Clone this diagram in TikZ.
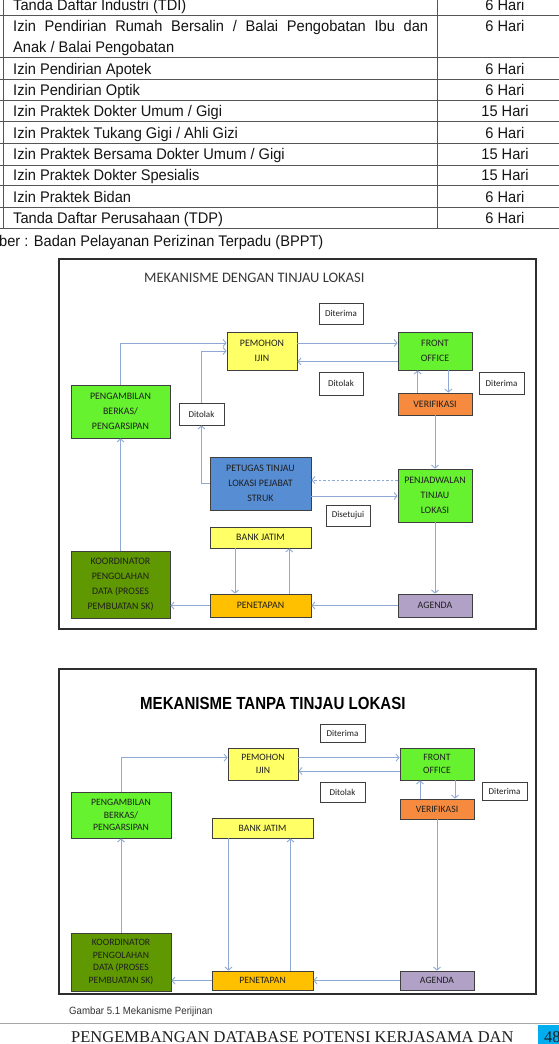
\documentclass[tikz,border=0pt]{standalone}
\usepackage{fontspec}
\setmainfont{Liberation Sans}
\newfontfamily\tabfont[FakeStretch=0.95]{Liberation Sans}
\newfontfamily\boxfont{Carlito}
\newfontfamily\headfont[FakeStretch=0.86]{Liberation Sans}
\newfontfamily\capfont[FakeStretch=0.92]{Liberation Sans}
\newfontfamily\footfont{Liberation Serif}
\usetikzlibrary{arrows.meta}

\definecolor{tabgray}{HTML}{555555}
\definecolor{boxline}{HTML}{3F3F3F}
\definecolor{panelgray}{HTML}{2E2E2E}
\definecolor{flowblue}{HTML}{8DA9D4}
\definecolor{fillyellow}{HTML}{FFFF66}
\definecolor{fillgreen}{HTML}{66F22E}
\definecolor{fillorange}{HTML}{F68B3F}
\definecolor{fillblue}{HTML}{568DD3}
\definecolor{filldkgreen}{HTML}{5F9800}
\definecolor{fillgold}{HTML}{FFC000}
\definecolor{fillpurple}{HTML}{B2A1C7}
\definecolor{pagecyan}{HTML}{00AEEF}

\tikzset{
  tabline/.style={draw=tabgray, line width=0.9pt},
  tabtext/.style={inner sep=0pt, font=\tabfont\fontsize{15.4}{21}\selectfont, text=black!92},
  flowbox/.style={draw=boxline, line width=0.8pt, inner sep=0pt, align=center, text=black!88},
  loose/.style={font=\boxfont\fontsize{9.9}{15.3}\selectfont},
  tight/.style={font=\boxfont\fontsize{9.7}{12.8}\selectfont},
  tag/.style={draw=boxline, line width=0.8pt, fill=white, inner sep=0pt, font=\boxfont\fontsize{9}{11}\selectfont, text=black!88},
  flow/.style={draw=flowblue, line width=0.9pt, -{Straight Barb[length=3pt,width=7pt]}},
  panel/.style={draw=panelgray, line width=1.2pt}
}

\begin{document}
\begin{tikzpicture}[x=1pt,y=-1pt]
\useasboundingbox (0,0) rectangle (559,1044);
\clip (0,0) rectangle (559,1044);
\fill[white] (0,0) rectangle (559,1044);

% ---------- permit table ----------
\foreach \yy in {15.7,57.3,79.3,100.7,121.7,143.3,165,185.7,207.3,228.3}
  \draw[tabline] (0,\yy) -- (559,\yy);
\draw[tabline] (3,-2) -- (3,228.3);
\draw[tabline] (437,-2) -- (437,228.3);

\node[tabtext, anchor=base west] (r1) at (13,10.7) {Tanda Daftar Industri (TDI)};
\node[tabtext, anchor=base west] (r2a) at (13,31.5) {\makebox[415pt][s]{Izin Pendirian Rumah Bersalin / Balai Pengobatan Ibu dan}};
\node[tabtext, anchor=base west] (r2b) at (13,52.3) {Anak / Balai Pengobatan};
\node[tabtext, anchor=base west] (r3) at (13,74) {Izin Pendirian Apotek};
\node[tabtext, anchor=base west] (r4) at (13,95.4) {Izin Pendirian Optik};
\node[tabtext, anchor=base west] (r5) at (13,116.4) {Izin Praktek Dokter Umum / Gigi};
\node[tabtext, anchor=base west] (r6) at (13,138) {Izin Praktek Tukang Gigi / Ahli Gizi};
\node[tabtext, anchor=base west] (r7) at (13,159.7) {Izin Praktek Bersama Dokter Umum / Gigi};
\node[tabtext, anchor=base west] (r8) at (13,180.4) {Izin Praktek Dokter Spesialis};
\node[tabtext, anchor=base west] (r9) at (13,202) {Izin Praktek Bidan};
\node[tabtext, anchor=base west] (r10) at (13,223) {Tanda Daftar Perusahaan (TDP)};

\node[tabtext, anchor=base] (h1) at (505,10.7) {6 Hari};
\node[tabtext, anchor=base] (h2) at (505,31.5) {6 Hari};
\node[tabtext, anchor=base] (h3) at (505,74) {6 Hari};
\node[tabtext, anchor=base] (h4) at (505,95.4) {6 Hari};
\node[tabtext, anchor=base] (h5) at (505,116.4) {15 Hari};
\node[tabtext, anchor=base] (h6) at (505,138) {6 Hari};
\node[tabtext, anchor=base] (h7) at (505,159.7) {15 Hari};
\node[tabtext, anchor=base] (h8) at (505,180.4) {15 Hari};
\node[tabtext, anchor=base] (h9) at (505,202) {6 Hari};
\node[tabtext, anchor=base] (h10) at (505,223) {6 Hari};

\node[tabtext, anchor=base west] (src) at (-1,246) {ber : Badan Pelayanan Perizinan Terpadu (BPPT)};

% ---------- flow with site survey ----------
\draw[panel] (59,259) rectangle (536,629);
\node[inner sep=0pt, anchor=base west, font=\boxfont\fontsize{14.5}{16}\selectfont, text=black!78] (t1) at (144,282.7) {MEKANISME DENGAN TINJAU LOKASI};

\node[tag, minimum width=44pt, minimum height=21pt] (ok1) at (341,313.5) {Diterima};
\node[flowbox, loose, fill=fillyellow, minimum width=70pt, minimum height=38pt] (pem1) at (262,351) {PEMOHON\\IJIN};
\node[flowbox, loose, fill=fillgreen, minimum width=74pt, minimum height=38pt] (fo1) at (435,351) {FRONT\\OFFICE};
\node[tag, minimum width=44pt, minimum height=23pt] (tol1) at (341,383.5) {Ditolak};
\node[tag, minimum width=45pt, minimum height=22pt] (ok1b) at (501.5,383) {Diterima};
\node[flowbox, loose, fill=fillgreen, minimum width=99pt, minimum height=53pt] (amb1) at (120.5,411.5) {PENGAMBILAN\\BERKAS/\\PENGARSIPAN};
\node[tag, minimum width=45pt, minimum height=22pt] (tol1b) at (201.5,414) {Ditolak};
\node[flowbox, loose, fill=fillorange, minimum width=74pt, minimum height=22pt] (ver1) at (435,404) {VERIFIKASI};
\node[flowbox, loose, fill=fillblue, minimum width=101pt, minimum height=53pt] (pet1) at (260.5,483.5) {PETUGAS TINJAU\\LOKASI PEJABAT\\STRUK};
\node[flowbox, loose, fill=fillgreen, minimum width=74pt, minimum height=53pt] (jad1) at (435,495.5) {PENJADWALAN\\TINJAU\\LOKASI};
\node[tag, minimum width=44pt, minimum height=21pt] (set1) at (348,515.5) {Disetujui};
\node[flowbox, loose, fill=fillyellow, minimum width=101pt, minimum height=21pt] (bank1) at (260.5,537.5) {BANK JATIM};
\node[flowbox, loose, fill=filldkgreen, minimum width=99pt, minimum height=67pt] (koor1) at (120.5,584.5) {KOORDINATOR\\PENGOLAHAN\\DATA (PROSES\\PEMBUATAN SK)};
\node[flowbox, loose, fill=fillgold, minimum width=101pt, minimum height=23pt] (tap1) at (260.5,605.5) {PENETAPAN};
\node[flowbox, loose, fill=fillpurple, minimum width=74pt, minimum height=23pt] (agd1) at (435,605.5) {AGENDA};

\draw[flow] (amb1.north) |- ([yshift=8pt]pem1.west);
\draw[flow] (pet1.west) -| (tol1b.south);
\draw[flow] (tol1b.north) |- (pem1.west);
\draw[flow] ([yshift=8pt]pem1.east) -- ([yshift=8pt]pem1.east -| fo1.west);
\draw[flow] ([yshift=-10.5pt]fo1.west) -- ([yshift=-10.5pt]fo1.west -| pem1.east);
\draw[flow] ([xshift=-17.3pt]ver1.north) -- ([xshift=-17.3pt]fo1.south);
\draw[flow] ([xshift=13.3pt]fo1.south) -- ([xshift=13.3pt]ver1.north);
\draw[flow] (ver1.south) -- (jad1.north);
\draw[flow, dashed, dash pattern=on 2.5pt off 2pt] ([yshift=15.5pt]jad1.west) -- ([yshift=15.5pt]jad1.west -| pet1.east);
\draw[flow] ([yshift=-12.5pt]pet1.east) -- ([yshift=-12.5pt]pet1.east -| jad1.west);
\draw[flow] (jad1.south) -- (agd1.north);
\draw[flow] (agd1.west) -- (tap1.east);
\draw[flow] (tap1.west) -- (tap1.west -| koor1.east);
\draw[flow] ([xshift=-25.5pt]bank1.south) -- ([xshift=-25.5pt]tap1.north);
\draw[flow] ([xshift=28.8pt]tap1.north) -- ([xshift=28.8pt]bank1.south);
\draw[flow] (koor1.north) -- (amb1.south);

% ---------- flow without site survey ----------
\draw[panel] (59,669) rectangle (536,994);
\node[inner sep=0pt, anchor=base west, font=\headfont\bfseries\fontsize{17.5}{19}\selectfont] (t2) at (140,709) {MEKANISME TANPA TINJAU LOKASI};

\node[tag, minimum width=45pt, minimum height=18pt] (ok2) at (342.5,733) {Diterima};
\node[flowbox, tight, fill=fillyellow, minimum width=70pt, minimum height=32pt] (pem2) at (263,764) {PEMOHON\\IJIN};
\node[flowbox, tight, fill=fillgreen, minimum width=74pt, minimum height=32pt] (fo2) at (437,764) {FRONT\\OFFICE};
\node[tag, minimum width=45pt, minimum height=20pt] (tol2) at (342.5,792) {Ditolak};
\node[tag, minimum width=45pt, minimum height=18pt] (ok2b) at (504.5,791) {Diterima};
\node[flowbox, tight, fill=fillgreen, minimum width=100pt, minimum height=46pt] (amb2) at (121,815) {PENGAMBILAN\\BERKAS/\\PENGARSIPAN};
\node[flowbox, tight, fill=fillorange, minimum width=74pt, minimum height=20pt] (ver2) at (437,809) {VERIFIKASI};
\node[flowbox, tight, fill=fillyellow, minimum width=101pt, minimum height=20pt] (bank2) at (262.5,828) {BANK JATIM};
\node[flowbox, tight, fill=filldkgreen, minimum width=100pt, minimum height=58pt] (koor2) at (121,962) {KOORDINATOR\\PENGOLAHAN\\DATA (PROSES\\PEMBUATAN SK)};
\node[flowbox, tight, fill=fillgold, minimum width=101pt, minimum height=19pt] (tap2) at (262.5,980.5) {PENETAPAN};
\node[flowbox, tight, fill=fillpurple, minimum width=74pt, minimum height=19pt] (agd2) at (437,980.5) {AGENDA};

\draw[flow] (amb2.north) |- ([yshift=6.3pt]pem2.west);
\draw[flow] ([yshift=6.3pt]pem2.east) -- ([yshift=6.3pt]pem2.east -| fo2.west);
\draw[flow] ([yshift=-7pt]fo2.west) -- ([yshift=-7pt]fo2.west -| pem2.east);
\draw[flow] ([xshift=-17pt]ver2.north) -- ([xshift=-17pt]fo2.south);
\draw[flow] ([xshift=18pt]fo2.south) -- ([xshift=18pt]ver2.north);
\draw[flow] (ver2.south) -- (agd2.north);
\draw[flow] (agd2.west) -- (tap2.east);
\draw[flow] (tap2.west) -- (tap2.west -| koor2.east);
\draw[flow] ([xshift=-34pt]bank2.south) -- ([xshift=-34pt]tap2.north);
\draw[flow] ([xshift=28pt]tap2.north) -- ([xshift=28pt]bank2.south);
\draw[flow] (koor2.north) -- (amb2.south);

\node[inner sep=0pt, anchor=base west, font=\capfont\fontsize{10.5}{12}\selectfont, text=black!80] (cap) at (69,1014.3) {Gambar 5.1 Mekanisme Perijinan};

% ---------- page footer ----------
\draw[draw=gray!70, line width=1.2pt] (0,1023.5) -- (559,1023.5);
\fill[pagecyan] (538,1025) rectangle (559,1044);
\node[inner sep=0pt, anchor=base west, font=\footfont\fontsize{16.5}{18}\selectfont, text=black!88] (foot) at (71,1042.3) {PENGEMBANGAN DATABASE POTENSI KERJASAMA DAN};
\node[inner sep=0pt, anchor=base west, font=\footfont\fontsize{16.5}{18}\selectfont, text=black!88] (pg) at (544,1042.3) {48};
\end{tikzpicture}
\end{document}
